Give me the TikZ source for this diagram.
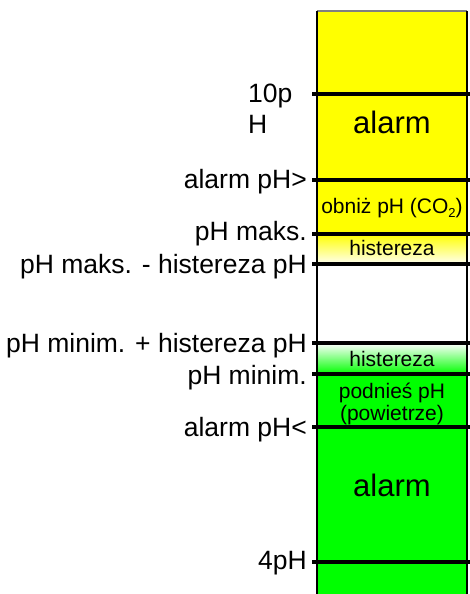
\documentclass[tikz,border=0pt]{standalone}
\usepackage{fontspec}
\setmainfont{Liberation Sans}
\definecolor{zoneyellow}{RGB}{255,255,0}
\definecolor{zonegreen}{RGB}{0,255,0}
\begin{document}
\begin{tikzpicture}[x=1pt, y=-1pt,
    level/.style={line width=3.2pt},
    frame/.style={line width=1.5pt},
    lbl/.style={anchor=base east, inner sep=0pt, font=\fontsize{26.5}{31}\selectfont},
    bigtxt/.style={anchor=base, inner sep=0pt, font=\fontsize{31}{36}\selectfont},
    smalltxt/.style={anchor=base, inner sep=0pt, align=center, font=\fontsize{21}{22.5}\selectfont}]
  \useasboundingbox (0,0) rectangle (470,594);

  % Colour zones
  \fill[zoneyellow] (317,11) rectangle (467,234);
  \shade[top color=zoneyellow, bottom color=zoneyellow!5] (317,234) rectangle (467,264);
  \shade[top color=white, bottom color=zonegreen] (317,343) rectangle (467,374);
  \fill[zonegreen] (317,374) rectangle (467,594);

  % Frame
  \coordinate (tl) at (317,11);
  \coordinate (tr) at (467,11);
  \coordinate (bl) at (317,594);
  \coordinate (br) at (467,594);
  \draw[gray, line width=1.5pt] (tl) -- (tr);
  \draw[frame] (tl) -- (bl);
  \draw[frame] (tr) -- (br);

  % Levels
  \coordinate (ten-l) at (312,94);   \coordinate (ten-r) at (470,94);
  \coordinate (alhi-l) at (312,180); \coordinate (alhi-r) at (470,180);
  \coordinate (max-l) at (312,234);  \coordinate (max-r) at (470,234);
  \coordinate (maxh-l) at (312,264); \coordinate (maxh-r) at (470,264);
  \coordinate (minh-l) at (312,343); \coordinate (minh-r) at (470,343);
  \coordinate (min-l) at (312,374);  \coordinate (min-r) at (470,374);
  \coordinate (allo-l) at (312,427); \coordinate (allo-r) at (470,427);
  \coordinate (four-l) at (312,562); \coordinate (four-r) at (470,562);

  \draw[level] (ten-l) -- (ten-r);
  \draw[level] (alhi-l) -- (alhi-r);
  \draw[level] (max-l) -- (max-r);
  \draw[level] (maxh-l) -- (maxh-r);
  \draw[level] (minh-l) -- (minh-r);
  \draw[level] (min-l) -- (min-r);
  \draw[level] (allo-l) -- (allo-r);
  \draw[level] (four-l) -- (four-r);

  % Labels
  \node[anchor=north west, inner sep=0pt, align=left,
        font=\fontsize{26.5}{31}\selectfont] (tenlbl) at (248,84) {10p\\H};
  \node[lbl] (alhilbl) at (307,188) {alarm pH>};
  \node[lbl] (maxlbl) at (307,240) {pH maks.};
  \node[lbl] (maxhlbl) at (307,273) {pH maks. - histereza pH};
  \node[lbl] (minhlbl) at (307,352) {pH minim. + histereza pH};
  \node[lbl] (minlbl) at (307,384) {pH minim.};
  \node[lbl] (allolbl) at (307,436) {alarm pH<};
  \node[lbl] (fourlbl) at (307,569) {4pH};

  % Zone texts
  \node[bigtxt] (alarmhi) at (392,133) {alarm};
  \node[smalltxt] (lower) at (392,213) {obniż pH (CO\raisebox{-0.45ex}{\fontsize{13}{13}\selectfont 2})};
  \node[smalltxt] (histhi) at (392,255) {histereza};
  \node[smalltxt] (histlo) at (392,366) {histereza};
  \node[smalltxt, anchor=center] (raise) at (392,404) {podnieś pH\\(powietrze)};
  \node[bigtxt] (alarmlo) at (392,496) {alarm};
\end{tikzpicture}
\end{document}
